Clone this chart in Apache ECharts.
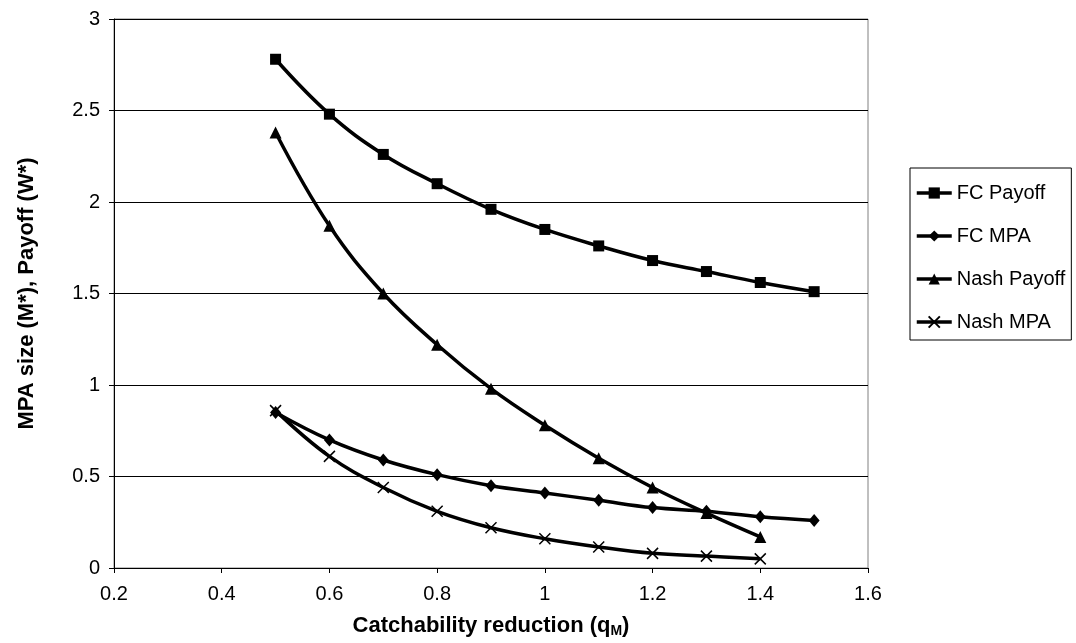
<!DOCTYPE html>
<html>
<head>
<meta charset="utf-8">
<script src="https://cdn.jsdelivr.net/npm/echarts@6/dist/echarts.min.js"></script>
<style>
  html, body { margin: 0; padding: 0; background: #fff; }
  #chart { width: 1076px; height: 643px; }
</style>
</head>
<body>
<div id="chart"></div>
<script>
(function(){

    // catchability reduction values (x)
    var qFC   = [0.5, 0.6, 0.7, 0.8, 0.9, 1.0, 1.1, 1.2, 1.3, 1.4, 1.5];
    var qNash = [0.5, 0.6, 0.7, 0.8, 0.9, 1.0, 1.1, 1.2, 1.3, 1.4];

    var fcPayoff   = [2.78, 2.48, 2.26, 2.10, 1.96, 1.85, 1.76, 1.68, 1.62, 1.56, 1.51];
    var fcMpa      = [0.85, 0.70, 0.59, 0.51, 0.45, 0.41, 0.37, 0.33, 0.31, 0.28, 0.26];
    var nashPayoff = [2.38, 1.87, 1.50, 1.22, 0.98, 0.78, 0.60, 0.44, 0.30, 0.17];
    var nashMpa    = [0.86, 0.61, 0.44, 0.31, 0.22, 0.16, 0.115, 0.08, 0.065, 0.05];

    var legendNames = ['FC Payoff', 'FC MPA', 'Nash Payoff', 'Nash MPA'];

    var pairs = function(xs, ys){
        var out = [];
        for (var i = 0; i < ys.length; i++) out.push([xs[i], ys[i]]);
        return out;
    };

    var font = '"Liberation Sans", Arial, sans-serif';

    var chart = echarts.init(document.getElementById('chart'));
    var option = {
        animation: false,
        backgroundColor: '#fff',
        textStyle: { fontFamily: font, color: '#000' },
        grid: {
            left: 114,
            right: 208,
            top: 19,
            bottom: 70,
            show: true,
            borderColor: '#808080',
            borderWidth: 1
        },
        legend: {
            orient: 'vertical',
            left: 910,
            top: 168,
            padding: [15, 6, 8, 5],
            itemGap: 23,
            itemWidth: 35,
            itemHeight: 14,
            borderColor: '#000',
            borderWidth: 1,
            lineStyle: { width: 3.5, color: '#000' },
            textStyle: { fontSize: 20, color: '#000', fontFamily: font },
            data: legendNames
        },
        xAxis: {
            type: 'value',
            min: 0.2,
            max: 1.6,
            interval: 0.2,
            name: '{a|Catchability reduction (q}{s|M}{a|)}',
            nameLocation: 'middle',
            nameGap: 46,
            nameTextStyle: {
                rich: {
                    a: { fontSize: 22, fontWeight: 'bold', color: '#000', fontFamily: font },
                    s: { fontSize: 14, fontWeight: 'bold', color: '#000', fontFamily: font, verticalAlign: 'bottom', padding: [10, 0, 0, 0] }
                }
            },
            axisLine: { lineStyle: { color: '#000', width: 1 } },
            axisTick: { show: true, length: 5, lineStyle: { color: '#000' } },
            axisLabel: { fontSize: 20, color: '#000', margin: 16, fontFamily: font },
            splitLine: { show: false }
        },
        yAxis: {
            type: 'value',
            min: 0,
            max: 3,
            interval: 0.5,
            name: 'MPA size (M*), Payoff (W*)',
            nameLocation: 'middle',
            nameGap: 76,
            nameTextStyle: { fontSize: 22, fontWeight: 'bold', color: '#000', fontFamily: font },
            axisLine: { show: true, lineStyle: { color: '#000', width: 1 } },
            axisTick: { show: true, length: 5, lineStyle: { color: '#000' } },
            axisLabel: { fontSize: 20, color: '#000', margin: 14, fontFamily: font },
            splitLine: { show: true, lineStyle: { color: '#000', width: 1 } }
        },
        series: [
            {
                name: 'FC Payoff',
                type: 'line',
                smooth: 0.4,
                data: pairs(qFC, fcPayoff),
                symbol: 'rect',
                symbolSize: 11,
                lineStyle: { color: '#000', width: 3.5 },
                itemStyle: { color: '#000' }
            },
            {
                name: 'FC MPA',
                type: 'line',
                smooth: 0.4,
                data: pairs(qFC, fcMpa),
                symbol: 'diamond',
                symbolSize: [11, 13],
                lineStyle: { color: '#000', width: 3.5 },
                itemStyle: { color: '#000' }
            },
            {
                name: 'Nash Payoff',
                type: 'line',
                smooth: 0.4,
                data: pairs(qNash, nashPayoff),
                symbol: 'triangle',
                symbolSize: 12,
                lineStyle: { color: '#000', width: 3.5 },
                itemStyle: { color: '#000' }
            },
            {
                name: 'Nash MPA',
                type: 'line',
                smooth: 0.4,
                data: pairs(qNash, nashMpa),
                symbol: 'path://M0,0L10,10M10,0L0,10',
                symbolSize: 11,
                lineStyle: { color: '#000', width: 3.5 },
                itemStyle: { color: '#000', borderColor: '#000', borderWidth: 1.5 }
            }
        ]
    };
    chart.setOption(option);

})();
</script>
</body>
</html>
